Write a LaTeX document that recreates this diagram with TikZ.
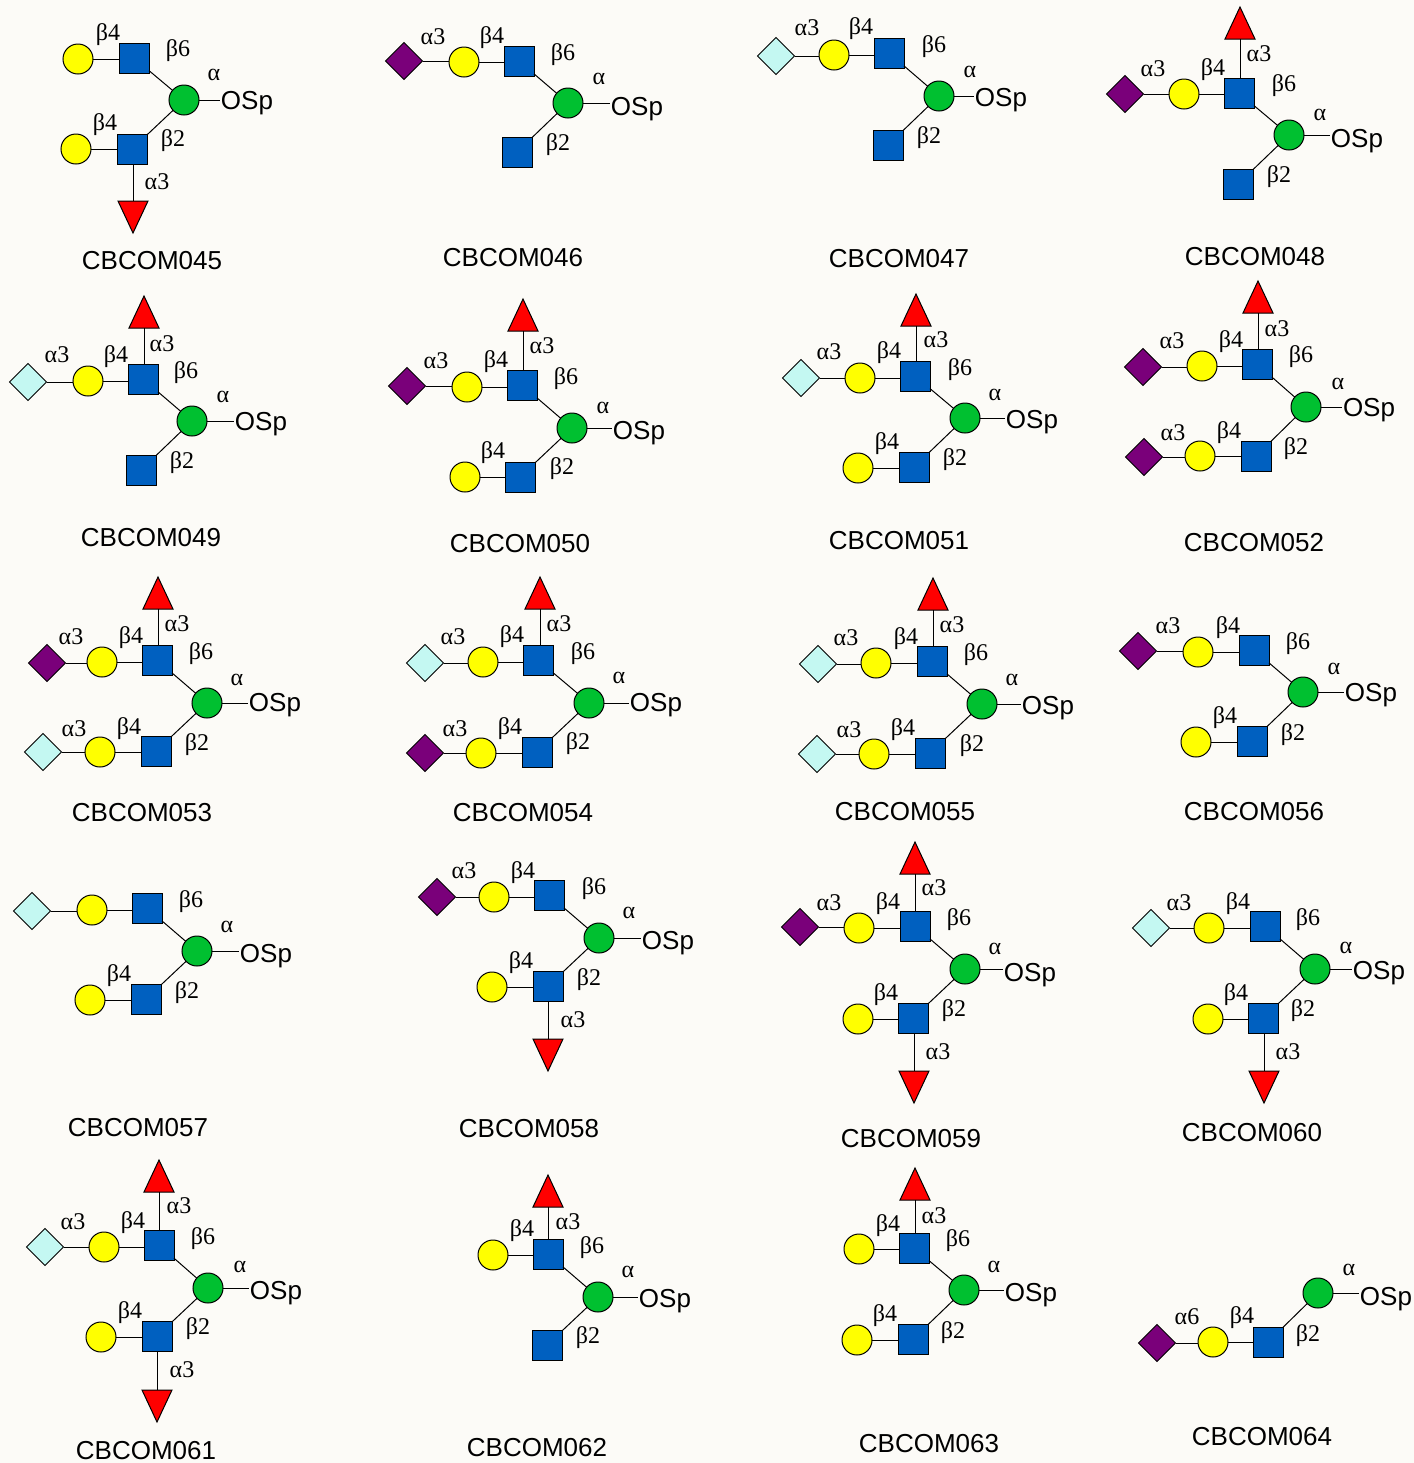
\documentclass[tikz,border=0pt]{standalone}
\usepackage{fontspec}
\setmainfont{Liberation Serif}
\setsansfont{Liberation Sans}
\usetikzlibrary{shapes.geometric}
\definecolor{paper}{RGB}{252,251,247}
\definecolor{galyellow}{RGB}{255,255,0}
\definecolor{nacblue}{RGB}{0,96,192}
\definecolor{glcgreen}{RGB}{0,192,48}
\definecolor{fucred}{RGB}{255,0,0}
\definecolor{acpurple}{RGB}{122,0,122}
\definecolor{gcblue}{RGB}{196,248,242}

\begin{document}
\begin{tikzpicture}[
    x=0.5pt, y=-0.5pt,
    sugar/.style={draw, line width=0.5pt, inner sep=0pt, outer sep=0pt},
    gal/.style={sugar, circle, minimum size=15pt, fill=galyellow},
    glc/.style={sugar, circle, minimum size=15pt, fill=glcgreen},
    nac/.style={sugar, rectangle, minimum size=15pt, fill=nacblue},
    sia/.style={sugar, diamond, minimum size=18.5pt, fill=#1},
    fuc/.style={sugar, isosceles triangle, isosceles triangle stretches,
                shape border rotate=#1, minimum width=15pt, minimum height=16pt,
                fill=fucred, anchor=apex},
    link/.style={line width=0.5pt},
    sp/.style={font=\sffamily\fontsize{13}{15}\selectfont, inner sep=0.5pt, text depth=0pt},
    title/.style={font=\sffamily\fontsize{13}{15}\selectfont, inner sep=0pt},
    lbl/.style={font=\fontsize{12}{14}\selectfont, inner sep=0pt, text depth=0pt}
  ]
  \fill[paper] (0,0) rectangle (1414,1463);

  % core glucose and the spacer
  \foreach \p/\x/\y/\ox/\oy in {45/184/100/247/100, 46/568/103/637/106, 47/939/96/1001/97,
      48/1289/135/1357/138, 49/192/421/261/421, 50/572/428/639/430, 51/965/418/1032/419,
      52/1306/407/1369/407, 53/207/703/275/702, 54/589/703/656/702, 55/982/704/1048/705,
      56/1303/692/1371/692, 57/197/951/266/953, 58/599/938/668/940, 59/965/969/1030/972,
      60/1315/969/1379/970, 61/208/1288/276/1290, 62/598/1297/665/1298, 63/964/1290/1031/1292,
      64/1318/1293/1386/1296} {
    \node[glc] (g\p) at (\x,\y) {};
    \node[sp] (o\p) at (\ox,\oy) {OSp};
    \draw[link] (g\p.east) -- (g\p.east -| o\p.west);
  }

  % GlcNAc, upper arm then lower arm
  \foreach \n/\x/\y in {u45/134/58, u46/519/61, u47/889/53, u48/1239/93, u49/143/379, u50/522/385,
      u51/915/376, u52/1257/364, u53/157/660, u54/538/660, u55/932/661, u56/1254/650, u57/147/908,
      u58/549/895, u59/915/926, u60/1265/926, u61/159/1245, u62/548/1254, u63/914/1248,
      l45/132/149, l46/517/152, l47/888/145, l48/1238/184, l49/141/470, l50/520/477, l51/914/467,
      l52/1256/456, l53/156/751, l54/537/752, l55/930/753, l56/1252/741, l57/146/999, l58/548/986,
      l59/913/1018, l60/1263/1018, l61/157/1336, l62/547/1345, l63/913/1339, l64/1268/1342} {
    \node[nac] (\n) at (\x,\y) {};
  }

  % Gal
  \foreach \n/\x/\y in {a45/78/59, a46/464/62, a47/834/55, a48/1184/94, a49/88/381, a50/467/387,
      a51/860/378, a52/1202/366, a53/102/662, a54/483/662, a55/876/663, a56/1198/652, a57/92/910,
      a58/494/897, a59/859/928, a60/1209/928, a61/104/1247, a62/493/1255, a63/859/1249,
      b45/76/149, b50/465/477, b51/858/468, b52/1200/456, b53/100/752, b54/481/753, b55/874/754,
      b56/1196/742, b57/90/1000, b58/492/987, b59/858/1019, b60/1208/1019, b61/101/1337,
      b63/857/1340, b64/1213/1342} {
    \node[gal] (\n) at (\x,\y) {};
  }

  % sialic acids
  \foreach \n/\x/\y in {s46/404/61, s48/1125/94, s50/407/386, s52/1143/367, s53/47/663, s56/1138/651,
      s58/437/897, s59/800/927, t52/1144/457, t54/425/753, t64/1157/1343} {
    \node[sia=acpurple] (\n) at (\x,\y) {};
  }
  \foreach \n/\x/\y in {s47/776/56, s49/28/382, s51/801/378, s54/425/663, s55/818/664, s57/32/911,
      s60/1151/928, s61/45/1247, t53/43/752, t55/817/754} {
    \node[sia=gcblue] (\n) at (\x,\y) {};
  }

  % fucose
  \foreach \n/\x/\y in {e48/1240/7, e49/144/296, e50/523/299, e51/916/294, e52/1258/281, e53/158/577,
      e54/540/577, e55/933/578, e59/915/842, e61/159/1160, e62/548/1175, e63/915/1168} {
    \node[fuc=90] (\n) at (\x,\y) {};
  }
  \foreach \n/\x/\y in {d45/133/233, d58/548/1071, d59/914/1103, d60/1264/1103, d61/157/1422} {
    \node[fuc=-90] (\n) at (\x,\y) {};
  }

  % linkages
  \foreach \p in {45,...,63} {
    \draw[link] (g\p) -- (u\p);
    \draw[link] (g\p) -- (l\p);
    \draw[link] (a\p.east) -- (a\p.east -| u\p.west);
  }
  \draw[link] (g64) -- (l64);
  \foreach \p in {46,...,61} {
    \draw[link] (s\p.east) -- (s\p.east -| a\p.west);
  }
  \foreach \p in {45,50,51,52,53,54,55,56,57,58,59,60,61,63,64} {
    \draw[link] (b\p.east) -- (b\p.east -| l\p.west);
  }
  \foreach \p in {52,53,54,55,64} {
    \draw[link] (t\p.east) -- (t\p.east -| b\p.west);
  }
  \foreach \p in {48,49,50,51,52,53,54,55,59,61,62,63} {
    \draw[link] (e\p) -- (e\p |- u\p.north);
  }
  \foreach \p in {45,58,59,60,61} {
    \draw[link] (d\p) -- (d\p |- l\p.south);
  }

  % anomeric labels
  \foreach \x/\y/\t [count=\i] in {
      214/75/α, 108/32/β4, 178/48/β6, 105/122/β4, 173/138/β2, 157/182/α3,
      599/79/α, 433/37/α3, 492/35/β4, 563/52/β6, 558/142/β2,
      970/72/α, 807/28/α3, 861/26/β4, 934/44/β6, 929/135/β2,
      1320/115/α, 1153/69/α3, 1213/67/β4, 1259/54/α3, 1284/83/β6, 1279/174/β2,
      223/397/α, 57/355/α3, 116/354/β4, 162/344/α3, 186/370/β6, 182/460/β2,
      603/408/α, 436/361/α3, 496/359/β4, 542/346/α3, 566/376/β6, 493/450/β4, 562/466/β2,
      995/395/α, 829/352/α3, 889/350/β4, 936/340/α3, 960/367/β6, 887/441/β4, 955/457/β2,
      1338/384/α, 1172/341/α3, 1231/339/β4, 1277/329/α3, 1301/354/β6, 1173/433/α3, 1229/430/β4, 1296/446/β2,
      237/680/α, 71/637/α3, 131/635/β4, 177/624/α3, 201/651/β6, 74/729/α3, 129/726/β4, 197/742/β2,
      619/678/α, 453/637/α3, 512/634/β4, 559/624/α3, 583/651/β6, 455/729/α3, 510/726/β4, 578/741/β2,
      1012/680/α, 846/638/α3, 906/636/β4, 952/625/α3, 976/652/β6, 849/730/α3, 903/727/β4, 972/743/β2,
      1334/669/α, 1168/626/α3, 1228/625/β4, 1298/641/β6, 1225/715/β4, 1293/732/β2,
      227/927/α, 191/899/β6, 119/973/β4, 187/990/β2,
      629/913/α, 464/871/α3, 523/870/β4, 594/886/β6, 521/960/β4, 589/977/β2, 573/1020/α3,
      995/949/α, 829/903/α3, 888/901/β4, 934/888/α3, 959/917/β6, 886/992/β4, 954/1008/β2, 938/1052/α3,
      1346/948/α, 1179/903/α3, 1238/901/β4, 1308/917/β6, 1236/992/β4, 1303/1008/β2, 1288/1052/α3,
      240/1267/α, 73/1222/α3, 133/1220/β4, 179/1206/α3, 203/1236/β6, 130/1310/β4, 198/1326/β2, 182/1370/α3,
      628/1272/α, 522/1228/β4, 568/1222/α3, 592/1245/β6, 588/1335/β2,
      994/1267/α, 888/1223/β4, 934/1216/α3, 958/1238/β6, 885/1313/β4, 953/1330/β2,
      1349/1270/α, 1187/1317/α6, 1242/1315/β4, 1308/1333/β2} {
    \node[lbl] (lb\i) at (\x,\y) {\t};
  }

  % compound names
  \foreach \n/\x/\y in {045/152/261, 046/513/258, 047/899/259, 048/1255/257, 049/151/538, 050/520/544,
      051/899/541, 052/1254/543, 053/142/813, 054/523/813, 055/905/812, 056/1254/812, 057/138/1128,
      058/529/1129, 059/911/1139, 060/1252/1133, 061/146/1451, 062/537/1448, 063/929/1444, 064/1262/1437} {
    \node[title] (name\n) at (\x,\y) {CBCOM\n};
  }
\end{tikzpicture}
\end{document}
